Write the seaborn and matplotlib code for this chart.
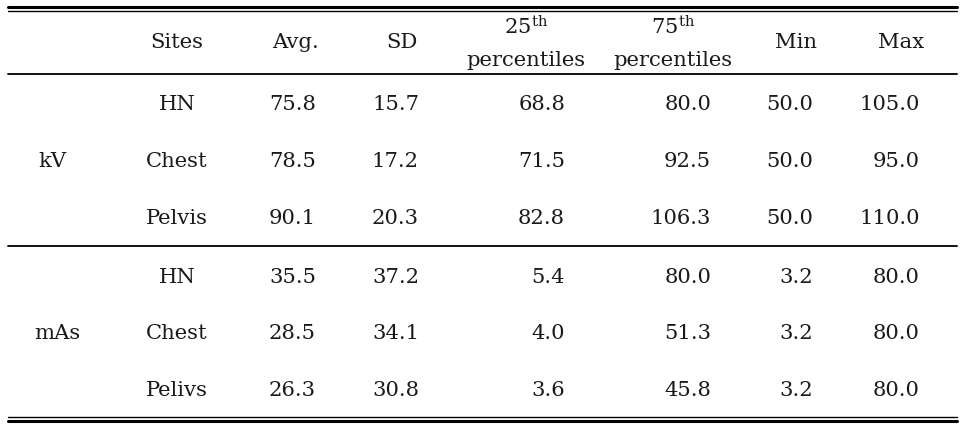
import matplotlib
matplotlib.use("Agg")
import matplotlib.pyplot as plt
import seaborn as sns

# ---- table data ----
groups = ["kV", "mAs"]
sites = ["HN", "Chest", "Pelvis", "HN", "Chest", "Pelivs"]
avg = [75.8, 78.5, 90.1, 35.5, 28.5, 26.3]
sd = [15.7, 17.2, 20.3, 37.2, 34.1, 30.8]
p25 = [68.8, 71.5, 82.8, 5.4, 4.0, 3.6]
p75 = [80.0, 92.5, 106.3, 80.0, 51.3, 45.8]
mins = [50.0, 50.0, 50.0, 3.2, 3.2, 3.2]
maxs = [105.0, 95.0, 110.0, 80.0, 80.0, 80.0]

# ---- layout (pixel coords) ----
W, H = 966, 436
num_x = [316, 419, 565, 711, 813, 920]   # right edges of numeric columns
head_x = [296, 402, 526, 673, 796, 901]  # header centres
site_x = 177
group_x = [52, 57]
row_y = [104, 161, 218, 277, 333, 390]
head_y = 43

sns.set_theme(style="white")
plt.rcParams['font.family'] = ['DejaVu Serif']
plt.rcParams['mathtext.fontset'] = 'dejavuserif'

fig = plt.figure(figsize=(W / 100, H / 100), dpi=100)
ax = fig.add_axes([0, 0, 1, 1])
ax.set_xlim(0, W)
ax.set_ylim(H, 0)
ax.axis("off")

fs = 15.2
col = "#1a1a1a"

# horizontal rules
x0, x1 = 8, 957
ax.plot([x0, x1], [7, 7], color="black", lw=2.2)
ax.plot([x0, x1], [11, 11], color="black", lw=1.0)
ax.plot([x0, x1], [74, 74], color="black", lw=1.3)
ax.plot([x0, x1], [246, 246], color="black", lw=1.3)
ax.plot([x0, x1], [417, 417], color="black", lw=1.0)
ax.plot([x0, x1], [421, 421], color="black", lw=2.2)

# header
ax.text(site_x, head_y, "Sites", ha="center", va="center", fontsize=fs, color=col)
ax.text(head_x[0], head_y, "Avg.", ha="center", va="center", fontsize=fs, color=col)
ax.text(head_x[1], head_y, "SD", ha="center", va="center", fontsize=fs, color=col)
for hx, n in zip(head_x[2:4], ["25", "75"]):
    ax.text(hx, 27, n + r"$^{\mathrm{th}}$", ha="center", va="center", fontsize=fs, color=col)
    ax.text(hx, 60, "percentiles", ha="center", va="center", fontsize=fs, color=col)
ax.text(head_x[4], head_y, "Min", ha="center", va="center", fontsize=fs, color=col)
ax.text(head_x[5], head_y, "Max", ha="center", va="center", fontsize=fs, color=col)

# group labels
for i, g in enumerate(groups):
    ax.text(group_x[i], row_y[3 * i + 1], g, ha="center", va="center", fontsize=fs, color=col)

# body
columns = [avg, sd, p25, p75, mins, maxs]
for r, y in enumerate(row_y):
    ax.text(site_x, y, sites[r], ha="center", va="center", fontsize=fs, color=col)
    for c, vals in enumerate(columns):
        ax.text(num_x[c], y, f"{vals[r]:.1f}", ha="right", va="center", fontsize=fs, color=col)

fig.savefig("out.png", dpi=100)
